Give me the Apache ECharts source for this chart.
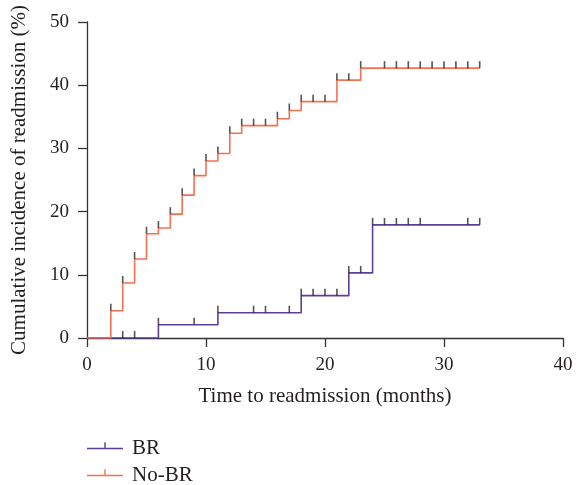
<!DOCTYPE html>
<html>
<head>
<meta charset="utf-8">
<script src="https://cdn.jsdelivr.net/npm/echarts@6/dist/echarts.min.js"></script>
<style>html,body{margin:0;padding:0;background:#fff;}#c{width:578px;height:485px;}</style>
</head>
<body>
<div id="c"></div>
<script>
// Step function data: [time (months), cumulative incidence (%) after that time]
var brTimes  = [0, 6,   11,  18,  22,   24,   33];
var brValues = [0, 2.1, 4.0, 6.7, 10.3, 17.9, 17.9];
var brCensor = [3, 4, 6, 9, 11, 14, 15, 17, 18, 19, 20, 21, 22, 23, 24, 25, 26, 27, 28, 32, 33];

var nobrTimes  = [0, 2,   3,   4,    5,    6,    7,    8,    9,    10,   11,   12,   13,   16,   17,   18,   21,   23,   33];
var nobrValues = [0, 4.3, 8.7, 12.5, 16.5, 17.4, 19.6, 22.6, 25.7, 28.0, 29.2, 32.4, 33.6, 34.7, 36.0, 37.4, 40.8, 42.7, 42.7];
var nobrCensor = [2, 3, 4, 5, 6, 7, 8, 9, 10, 11, 12, 13, 14, 15, 16, 17, 18, 19, 20, 21, 22, 23, 25, 26, 27, 28, 29, 30, 31, 32, 33];

var xTicks = [0, 10, 20, 30, 40];
var yTicks = [0, 10, 20, 30, 40, 50];

var seriesNames = ['BR', 'No-BR'];
var colors = ['#5a3f9c', '#f4704f'];

function stepAt(times, values, t) {
  var v = values[0];
  for (var i = 0; i < times.length; i++) { if (times[i] <= t) v = values[i]; }
  return v;
}
function pairs(a, b) { return a.map(function (x, i) { return [x, b[i]]; }); }
function censorPts(times, values, cens) { return cens.map(function (t) { return [t, stepAt(times, values, t)]; }); }

var font = '"Liberation Serif", "DejaVu Serif", serif';
var legendIcon = 'path://M17.3,0 L18.7,0 L18.7,5.5 L17.3,5.5 Z M0,5.5 L36,5.5 L36,7 L0,7 Z M0,12.49 L0.01,12.49 L0.01,12.5 Z';

function makeLegend(name, top) {
  return {
    show: true, orient: 'vertical', left: 87, top: top, padding: 0,
    itemWidth: 36, itemHeight: 12.5,
    data: [{name: name, icon: legendIcon}],
    textStyle: {fontFamily: font, fontSize: 21, color: '#231f20', padding: [0, 0, 0, 4]}
  };
}

var chart = echarts.init(document.getElementById('c'), null, {renderer: 'canvas'});
chart.setOption({
  animation: false,
  backgroundColor: '#fff',
  grid: {left: 87, right: 15, top: 22, bottom: 147, containLabel: false},
  legend: [makeLegend(seriesNames[0], 438), makeLegend(seriesNames[1], 465)],
  xAxis: {
    type: 'value', min: xTicks[0], max: xTicks[xTicks.length - 1], interval: 10,
    name: 'Time to readmission (months)', nameLocation: 'middle', nameGap: 48,
    nameTextStyle: {fontFamily: font, fontSize: 21, color: '#231f20'},
    axisLine: {show: true, lineStyle: {color: '#333', width: 1.3}},
    axisTick: {show: true, inside: false, length: 9, lineStyle: {color: '#333', width: 1.3}},
    axisLabel: {fontFamily: font, fontSize: 19, color: '#231f20', margin: 18},
    splitLine: {show: false}
  },
  yAxis: {
    type: 'value', min: yTicks[0], max: yTicks[yTicks.length - 1], interval: 10,
    name: 'Cumulative incidence of readmission (%)', nameLocation: 'middle', nameGap: 57,
    nameTextStyle: {fontFamily: font, fontSize: 21, color: '#231f20'},
    axisLine: {show: true, lineStyle: {color: '#333', width: 1.3}},
    axisTick: {show: true, inside: false, length: 9, lineStyle: {color: '#333', width: 1.3}},
    axisLabel: {fontFamily: font, fontSize: 19, color: '#231f20', margin: 18},
    splitLine: {show: false}
  },
  series: [
    {
      name: seriesNames[0], type: 'line', step: 'end', showSymbol: false, z: 3,
      data: pairs(brTimes, brValues),
      itemStyle: {color: colors[0]},
      lineStyle: {color: colors[0], width: 1.6}
    },
    {
      name: seriesNames[1], type: 'line', step: 'end', showSymbol: false, z: 4,
      data: pairs(nobrTimes, nobrValues),
      itemStyle: {color: colors[1]},
      lineStyle: {color: colors[1], width: 1.6}
    },
    {
      name: 'BR-censor', type: 'scatter', z: 5, silent: true,
      symbol: 'rect', symbolSize: [1.6, 7], symbolOffset: [0, -3.5],
      itemStyle: {color: '#2a2a2a'},
      data: censorPts(brTimes, brValues, brCensor)
    },
    {
      name: 'No-BR-censor', type: 'scatter', z: 5, silent: true,
      symbol: 'rect', symbolSize: [1.6, 7], symbolOffset: [0, -3.5],
      itemStyle: {color: '#2a2a2a'},
      data: censorPts(nobrTimes, nobrValues, nobrCensor)
    }
  ]
});
</script>
</body>
</html>
